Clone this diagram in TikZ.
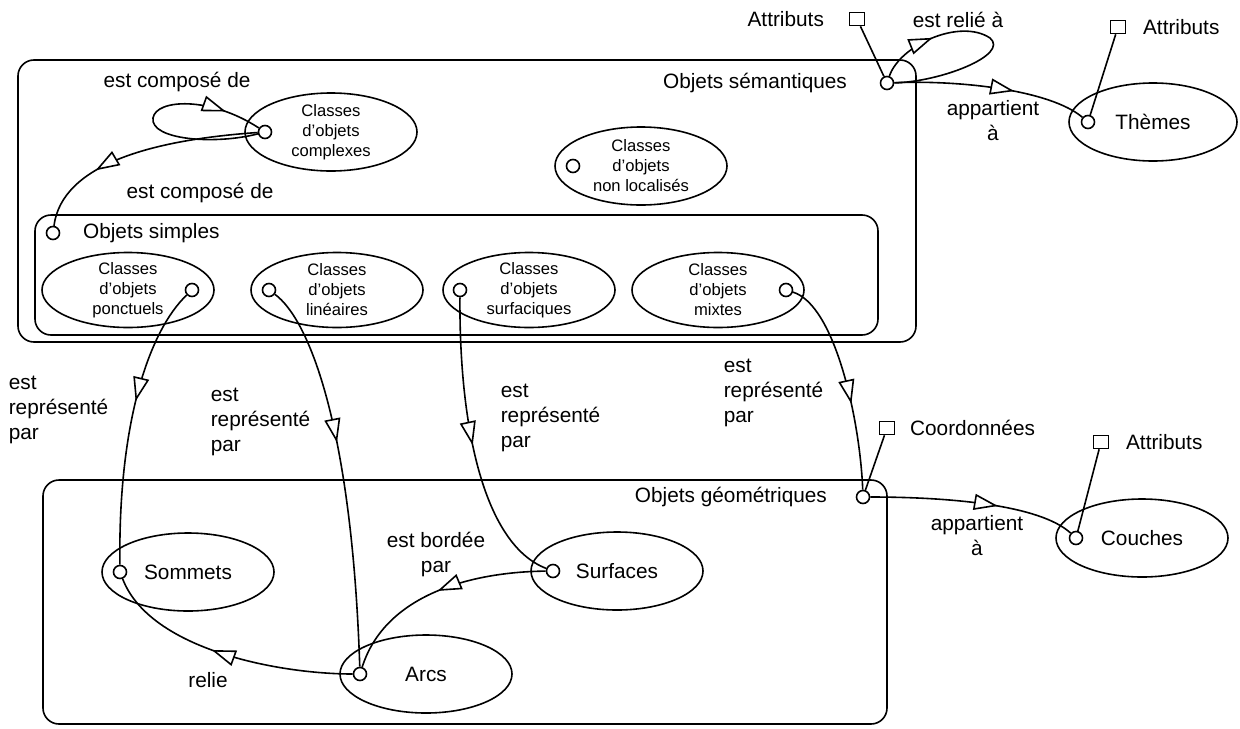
\documentclass[tikz,border=0pt]{standalone}
\usepackage{fontspec}
\setmainfont{Liberation Sans}
\usetikzlibrary{shapes.geometric, arrows.meta, positioning, decorations.markings}

\begin{document}
\begin{tikzpicture}[
    x=0.5pt, y=-0.5pt, line width=0.8pt,
    font=\fontsize{10.4}{12.5}\selectfont,
    box/.style={rectangle, draw, rounded corners=8pt, inner sep=0pt},
    classe/.style={ellipse, draw, minimum width=86pt, minimum height=39pt,
      inner sep=-1.5pt, align=center},
    small/.style={font=\fontsize{8.3}{10}\selectfont},
    port/.style={circle, draw, fill=white, minimum size=6.5pt, inner sep=0pt},
    attrib/.style={rectangle, draw, minimum width=7.5pt, minimum height=6.5pt, inner sep=0pt},
    lbl/.style={inner sep=0pt, align=left},
    tri/.style={postaction={decorate, decoration={markings,
      mark=at position #1 with {\arrow{Triangle[length=12pt, width=8pt, fill=white]}}}}}
]
\useasboundingbox (0,0) rectangle (1240,728);

% boites
\node[box, minimum width=449pt, minimum height=141pt] (sem) at (467,201) {};
\node[box, minimum width=421.5pt, minimum height=60pt] (simp) at (456.5,275) {};
\node[box, minimum width=422pt, minimum height=122pt] (geo) at (465,602) {};

\node[port] (psem) at (887,83) {};
\node[lbl, left=16pt of psem] (lsem) {Objets sémantiques};
\node[port] (ps) at (53,233) {};
\node[lbl, right=11pt of ps] (lsimp) {Objets simples};
\node[port] (pgeo) at (863,497) {};
\node[lbl, left=14pt of pgeo] (lgeo) {Objets géométriques};

% classes
\node[classe, small] (cpx) at (331,132) {Classes\\d'objets\\complexes};
\node[port, right=6.75pt of cpx.west] (pcpx) {};
\node[classe, small] (nloc) at (641,166) {Classes\\d'objets\\non localisés};
\node[port, right=5.75pt of nloc.west] (pnloc) {};

\node[classe, small, minimum height=37.5pt] (pon) at (128,290) {Classes\\d'objets\\ponctuels};
\node[port, left=7.75pt of pon.east] (ppon) {};
\node[classe, small, minimum height=37.5pt] (lin) at (337,290) {Classes\\d'objets\\linéaires};
\node[port, right=5.75pt of lin.west] (plin) {};
\node[classe, small, minimum height=37.5pt] (surf) at (529,290) {Classes\\d'objets\\surfaciques};
\node[port, right=5.25pt of surf.west] (psurf) {};
\node[classe, small, minimum height=37.5pt] (mix) at (718,290) {Classes\\d'objets\\mixtes};
\node[port, left=5.75pt of mix.east] (pmix) {};

\node[classe, minimum width=84pt] (thm) at (1153,122) {Thèmes};
\node[port, right=6.25pt of thm.west] (pthm) {};
\node[classe] (som) at (188,572) {Sommets};
\node[port, right=5.75pt of som.west] (psom) {};
\node[classe] (arc) at (426,674) {Arcs};
\node[port, right=6.75pt of arc.west] (parc) {};
\node[classe] (sfc) at (617,571) {Surfaces};
\node[port, right=7.75pt of sfc.west] (psfc) {};
\node[classe] (cou) at (1142,538) {Couches};
\node[port, right=6.75pt of cou.west] (pcou) {};

% attributs
\node[attrib] (att1) at (857,19) {};
\node[lbl, left=12pt of att1] {Attributs};
\node[attrib] (att2) at (1118,27) {};
\node[lbl, right=8pt of att2] {Attributs};
\node[attrib] (coord) at (887,428) {};
\node[lbl, right=7pt of coord] {Coordonnées};
\node[attrib] (att3) at (1101,442) {};
\node[lbl, right=8pt of att3] {Attributs};

% libelles des liens
\node[lbl] (lcomp1) at (177,82) {est composé de};
\node[lbl] (lcomp2) at (200,193) {est composé de};
\node[lbl] (lrel) at (958,20) {est relié à};
\node[lbl, align=center] (lapp1) at (993,121) {appartient\\à};
\node[lbl, align=center] (lapp2) at (977,536) {appartient\\à};
\node[lbl, anchor=west] (lrep1) at (8,410) {est\\représenté\\par};
\node[lbl, anchor=west] (lrep2) at (210,422) {est\\représenté\\par};
\node[lbl, anchor=west] (lrep3) at (500,418) {est\\représenté\\par};
\node[lbl, anchor=west] (lrep4) at (723,393) {est\\représenté\\par};
\node[lbl, align=center] (lbord) at (436,554) {est bordée\\par};
\node[lbl] (lrelie) at (208,680) {relie};

% liens
\draw[tri=0.84] (pcpx) .. controls (215,145) and (150,140) .. (153,118)
  .. controls (156,99) and (210,96) .. (pcpx);
\draw[tri=0.7] (pcpx) .. controls (150,140) and (62,165) .. (ps);
\draw[tri=0.25] (psem) .. controls (900,45) and (960,18) .. (990,38)
  .. controls (1010,55) and (940,82) .. (psem);
\draw[tri=0.62] (psem) .. controls (960,80) and (1050,90) .. (pthm);
\draw[tri=0.42] (ppon) .. controls (150,330) and (118,420) .. (psom);
\draw[tri=0.42] (plin) .. controls (310,320) and (352,430) .. (parc);
\draw[tri=0.5] (psurf) .. controls (459,430) and (485,545) .. (psfc);
\draw[tri=0.6] (pmix) .. controls (835,305) and (860,420) .. (pgeo);
\draw[tri=0.62] (pgeo) .. controls (950,497) and (1040,505) .. (pcou);
\draw[tri=0.55] (parc) .. controls (280,674) and (150,650) .. (psom);
\draw[tri=0.5] (psfc) .. controls (470,572) and (385,595) .. (parc);

\draw (att1) -- (psem);
\draw (att2) -- (pthm);
\draw (coord) -- (pgeo);
\draw (att3) -- (pcou);

\end{tikzpicture}
\end{document}
